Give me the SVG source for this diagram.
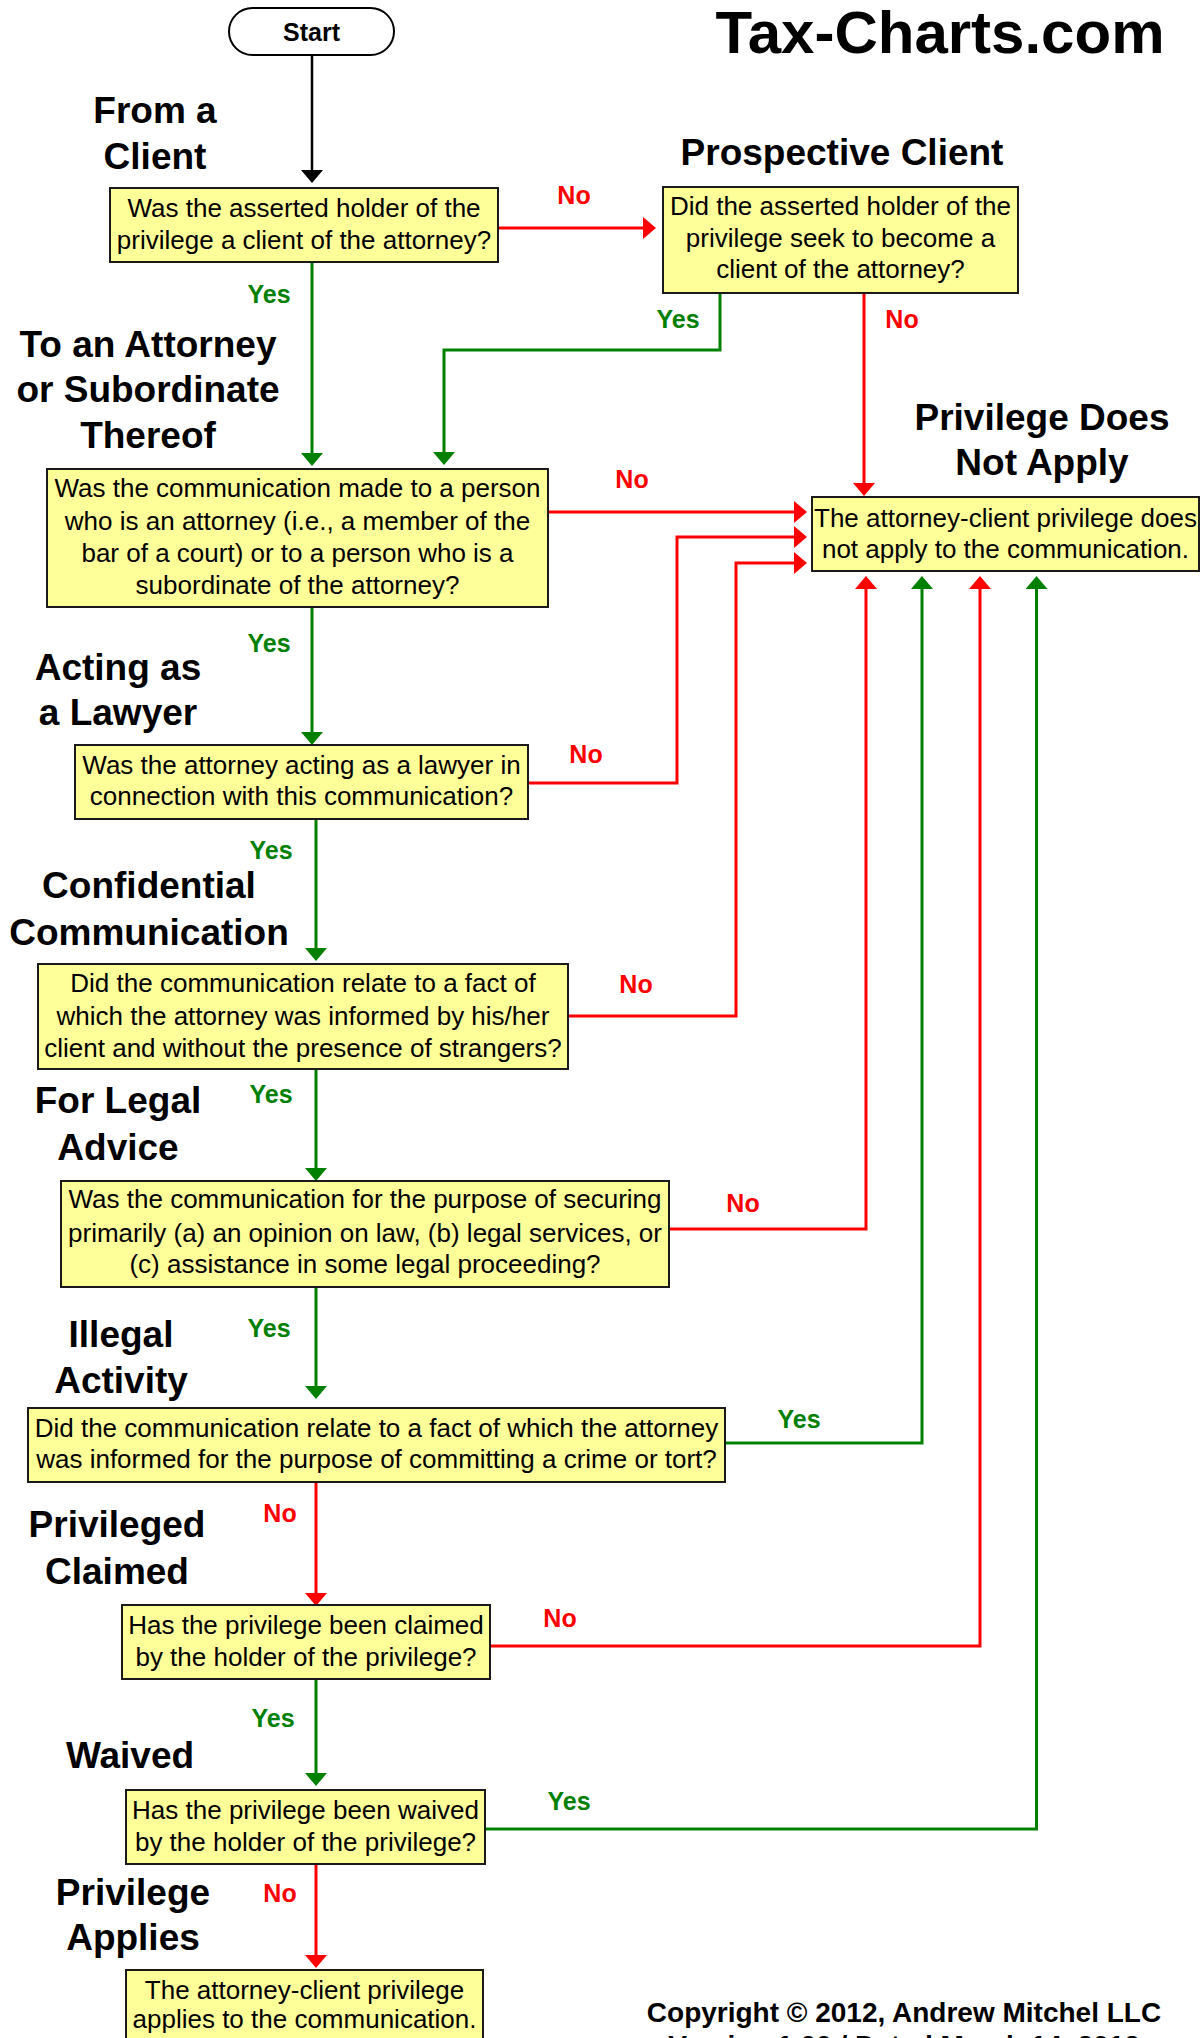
<svg xmlns="http://www.w3.org/2000/svg" width="1202" height="2038" viewBox="0 0 1202 2038">
<style>
text{font-family:"Liberation Sans",Arial,sans-serif;text-anchor:middle}
.box{fill:#FFFF99;stroke:#1a1a1a;stroke-width:2}
.bt{font-size:26px;fill:#000}
.sec{font-size:37px;font-weight:bold;fill:#000}
.yes{font-size:25px;font-weight:bold;fill:#008000}
.no{font-size:25px;font-weight:bold;fill:#FF0000}
.r{fill:none;stroke:#FF0000;stroke-width:3;marker-end:url(#ar)}
.g{fill:none;stroke:#008000;stroke-width:3;marker-end:url(#ag)}
.k{fill:none;stroke:#000;stroke-width:2.5;marker-end:url(#ak)}
</style>
<defs>
<marker id="ar" viewBox="0 0 13 22" refX="9" refY="11" markerWidth="13" markerHeight="22" markerUnits="userSpaceOnUse" orient="auto"><path d="M0,0 L13,11 L0,22 z" fill="#FF0000"/></marker>
<marker id="ag" viewBox="0 0 13 22" refX="9" refY="11" markerWidth="13" markerHeight="22" markerUnits="userSpaceOnUse" orient="auto"><path d="M0,0 L13,11 L0,22 z" fill="#008000"/></marker>
<marker id="ak" viewBox="0 0 13 22" refX="9" refY="11" markerWidth="13" markerHeight="22" markerUnits="userSpaceOnUse" orient="auto"><path d="M0,0 L13,11 L0,22 z" fill="#000"/></marker>
</defs>
<rect width="1202" height="2038" fill="#fff"/>

<g id="titles">
<text x="940" y="53" style="font-size:60px;font-weight:bold">Tax-Charts.com</text>
<text class="sec" x="155" y="123">From a</text>
<text class="sec" x="155" y="169">Client</text>
<text class="sec" x="842" y="165">Prospective Client</text>
<text class="sec" x="148" y="357">To an Attorney</text>
<text class="sec" x="148" y="402">or Subordinate</text>
<text class="sec" x="148" y="448">Thereof</text>
<text class="sec" x="1042" y="430">Privilege Does</text>
<text class="sec" x="1042" y="475">Not Apply</text>
<text class="sec" x="118" y="680">Acting as</text>
<text class="sec" x="118" y="725">a Lawyer</text>
<text class="sec" x="149" y="898">Confidential</text>
<text class="sec" x="149" y="945">Communication</text>
<text class="sec" x="118" y="1113">For Legal</text>
<text class="sec" x="118" y="1160">Advice</text>
<text class="sec" x="121" y="1347">Illegal</text>
<text class="sec" x="121" y="1393">Activity</text>
<text class="sec" x="117" y="1537">Privileged</text>
<text class="sec" x="117" y="1584">Claimed</text>
<text class="sec" x="130" y="1768">Waived</text>
<text class="sec" x="133" y="1905">Privilege</text>
<text class="sec" x="133" y="1950">Applies</text>
<text x="904" y="2022" style="font-size:28px;font-weight:bold">Copyright © 2012, Andrew Mitchel LLC</text>
<text x="904" y="2055" style="font-size:28px;font-weight:bold">Version 1.00 / Dated March 14, 2012</text>
</g>

<g id="connectors">
<path class="k" d="M312,55 V179"/>
<path class="r" d="M498,228 H652"/>
<path class="g" d="M312,262 V462"/>
<path class="g" d="M720,293 V350 H444 V461"/>
<path class="r" d="M864,293 V492"/>
<path class="r" d="M548,512 H803"/>
<path class="g" d="M312,607 V741"/>
<path class="r" d="M528,783 H677 V537 H803"/>
<path class="g" d="M316,819 V957"/>
<path class="r" d="M568,1016 H736 V563 H803"/>
<path class="g" d="M316,1069 V1177"/>
<path class="r" d="M669,1229 H866 V580"/>
<path class="g" d="M316,1287 V1395"/>
<path class="g" d="M725,1443 H922 V580"/>
<path class="r" d="M316,1482 V1602"/>
<path class="r" d="M490,1646 H980 V580"/>
<path class="g" d="M316,1679 V1782"/>
<path class="g" d="M485,1829 H1036.5 V580"/>
<path class="r" d="M316,1864 V1964"/>
<text class="no" x="574" y="204">No</text>
<text class="yes" x="269" y="303">Yes</text>
<text class="yes" x="678" y="328">Yes</text>
<text class="no" x="902" y="328">No</text>
<text class="no" x="632" y="488">No</text>
<text class="yes" x="269" y="652">Yes</text>
<text class="no" x="586" y="763">No</text>
<text class="yes" x="271" y="859">Yes</text>
<text class="no" x="636" y="993">No</text>
<text class="yes" x="271" y="1103">Yes</text>
<text class="no" x="743" y="1212">No</text>
<text class="yes" x="269" y="1337">Yes</text>
<text class="yes" x="799" y="1428">Yes</text>
<text class="no" x="280" y="1522">No</text>
<text class="no" x="560" y="1627">No</text>
<text class="yes" x="273" y="1727">Yes</text>
<text class="yes" x="569" y="1810">Yes</text>
<text class="no" x="280" y="1902">No</text>
</g>

<g id="start">
<rect x="229" y="8" width="165" height="47" rx="23.5" fill="#fff" stroke="#000" stroke-width="2"/>
<text x="311.5" y="41" style="font-size:25px;font-weight:bold">Start</text>
</g>

<g id="q-client">
<rect class="box" x="110" y="188" width="388" height="74"/>
<text class="bt" x="304" y="217">Was the asserted holder of the</text>
<text class="bt" x="304" y="249">privilege a client of the attorney?</text>
</g>

<g id="q-prospective">
<rect class="box" x="663" y="187" width="355" height="106"/>
<text class="bt" x="840.5" y="215">Did the asserted holder of the</text>
<text class="bt" x="840.5" y="247">privilege seek to become a</text>
<text class="bt" x="840.5" y="278">client of the attorney?</text>
</g>

<g id="q-attorney">
<rect class="box" x="47" y="469" width="501" height="138"/>
<text class="bt" x="297.5" y="497">Was the communication made to a person</text>
<text class="bt" x="297.5" y="530">who is an attorney (i.e., a member of the</text>
<text class="bt" x="297.5" y="562">bar of a court) or to a person who is a</text>
<text class="bt" x="297.5" y="594">subordinate of the attorney?</text>
</g>

<g id="not-apply">
<rect class="box" x="812" y="497" width="387" height="74"/>
<text class="bt" x="1005.5" y="527">The attorney-client privilege does</text>
<text class="bt" x="1005.5" y="558">not apply to the communication.</text>
</g>

<g id="q-lawyer">
<rect class="box" x="75" y="745" width="453" height="74"/>
<text class="bt" x="301.5" y="774">Was the attorney acting as a lawyer in</text>
<text class="bt" x="301.5" y="805">connection with this communication?</text>
</g>

<g id="q-confidential">
<rect class="box" x="38" y="964" width="530" height="105"/>
<text class="bt" x="303" y="992">Did the communication relate to a fact of</text>
<text class="bt" x="303" y="1025">which the attorney was informed by his/her</text>
<text class="bt" x="303" y="1057">client and without the presence of strangers?</text>
</g>

<g id="q-legal-advice">
<rect class="box" x="61" y="1181" width="608" height="106"/>
<text class="bt" x="365" y="1208">Was the communication for the purpose of securing</text>
<text class="bt" x="365" y="1242">primarily (a) an opinion on law, (b) legal services, or</text>
<text class="bt" x="365" y="1273">(c) assistance in some legal proceeding?</text>
</g>

<g id="q-illegal">
<rect class="box" x="28" y="1408" width="697" height="74"/>
<text class="bt" x="376.5" y="1437">Did the communication relate to a fact of which the attorney</text>
<text class="bt" x="376.5" y="1468">was informed for the purpose of committing a crime or tort?</text>
</g>

<g id="q-claimed">
<rect class="box" x="122" y="1605" width="368" height="74"/>
<text class="bt" x="306" y="1634">Has the privilege been claimed</text>
<text class="bt" x="306" y="1666">by the holder of the privilege?</text>
</g>

<g id="q-waived">
<rect class="box" x="126" y="1790" width="359" height="74"/>
<text class="bt" x="305.5" y="1819">Has the privilege been waived</text>
<text class="bt" x="305.5" y="1851">by the holder of the privilege?</text>
</g>

<g id="applies">
<rect class="box" x="126" y="1970" width="357" height="76"/>
<text class="bt" x="304.5" y="1999">The attorney-client privilege</text>
<text class="bt" x="304.5" y="2028">applies to the communication.</text>
</g>
</svg>
